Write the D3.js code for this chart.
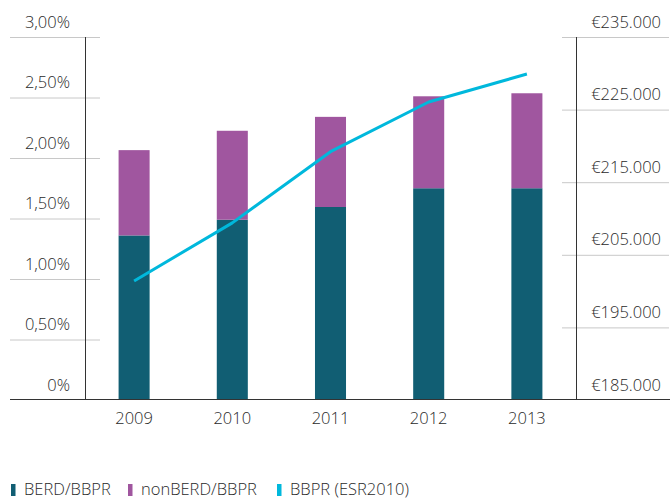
<!DOCTYPE html>
<html><head><meta charset="utf-8">
<script src="https://cdn.jsdelivr.net/npm/d3@7/dist/d3.min.js"></script>
<style>
body{margin:0;background:#fff;}
text{font-family:"Open Sans",sans-serif;font-weight:300;fill:#2a2a2a;}
</style></head>
<body><svg id="c" width="670" height="500"></svg>
<script>
const years = ["2009","2010","2011","2012","2013"];
const berd = [1.36, 1.49, 1.595, 1.75, 1.75];
const nonBerd = [0.705, 0.735, 0.745, 0.76, 0.785];
const bbpr = [201400, 209400, 219200, 226050, 229900];
const leftTicks = [0, 0.5, 1, 1.5, 2, 2.5, 3];
const rightTicks = [185000, 195000, 205000, 215000, 225000, 235000];
const legendLabels = ["BERD/BBPR", "nonBERD/BBPR", "BBPR (ESR2010)"];
const colors = ["#115e73", "#a0569f", "#00b8dc"];

const svg = d3.select("#c");
const x = d3.scaleBand().domain(years).range([85, 576]).paddingInner(0.684).paddingOuter(0.342);
const yL = d3.scaleLinear().domain([0, 3]).range([400, 37]);
const yR = d3.scaleLinear().domain([185000, 235000]).range([400, 37]);

const fmtL = v => v === 0 ? "0%" : d3.format(".2f")(v).replace(".", ",") + "%";
const fmtR = v => "€" + d3.format(",")(v).replace(/,/g, ".");

// left gridlines
const gL = svg.append("g").attr("transform", "translate(100,0)")
  .call(d3.axisLeft(yL).tickValues(leftTicks.filter(t => t > 0)).tickSize(90).tickFormat(""));
gL.select(".domain").remove();
gL.selectAll("line").attr("stroke", "#c8c8c8").attr("stroke-width", 1);
// right gridlines
const gR = svg.append("g").attr("transform", "translate(562,0)")
  .call(d3.axisRight(yR).tickValues(rightTicks.filter(t => t > 185000)).tickSize(107).tickFormat(""));
gR.select(".domain").remove();
gR.selectAll("line").attr("stroke", "#c8c8c8").attr("stroke-width", 1);

// left labels
const lL = svg.append("g").attr("transform", "translate(70,0)")
  .call(d3.axisLeft(yL).tickValues(leftTicks).tickSize(0).tickPadding(0).tickFormat(fmtL));
lL.select(".domain").remove();
lL.selectAll("text").attr("font-size", 16.5).attr("dy", "-0.6em").attr("fill", "#2a2a2a")
  .style("font-family", "'Open Sans',sans-serif").style("font-weight", 300);
// right labels
const lR = svg.append("g").attr("transform", "translate(661,0)")
  .call(d3.axisLeft(yR).tickValues(rightTicks).tickSize(0).tickPadding(0).tickFormat(fmtR));
lR.select(".domain").remove();
lR.selectAll("text").attr("font-size", 16.5).attr("dy", "-0.6em").attr("fill", "#2a2a2a")
  .style("font-family", "'Open Sans',sans-serif").style("font-weight", 300);

// bars
const stack = years.map((y, i) => ({y, a: berd[i], b: nonBerd[i]}));
svg.append("g").selectAll("rect.berd").data(stack).join("rect")
  .attr("x", d => x(d.y)).attr("width", x.bandwidth())
  .attr("y", d => yL(d.a)).attr("height", d => yL(0) - yL(d.a)).attr("fill", colors[0]);
svg.append("g").selectAll("rect.non").data(stack).join("rect")
  .attr("x", d => x(d.y)).attr("width", x.bandwidth())
  .attr("y", d => yL(d.a + d.b)).attr("height", d => yL(d.a) - yL(d.a + d.b)).attr("fill", colors[1]);

// vertical axis lines
svg.append("line").attr("x1", 85.5).attr("x2", 85.5).attr("y1", yL(3)).attr("y2", yL(0)).attr("stroke", "#333");
svg.append("line").attr("x1", 576.5).attr("x2", 576.5).attr("y1", yR(235000)).attr("y2", yR(185000)).attr("stroke", "#333");
// baseline
svg.append("line").attr("x1", 10).attr("x2", 670).attr("y1", yL(0) - 0.5).attr("y2", yL(0) - 0.5).attr("stroke", "#333");

// line
const line = d3.line().x((d, i) => x(years[i]) + x.bandwidth() / 2).y(d => yR(d));
svg.append("path").datum(bbpr).attr("d", line).attr("fill", "none")
  .attr("stroke", colors[2]).attr("stroke-width", 3).attr("stroke-linejoin", "round");

// x axis labels
const ax = svg.append("g").attr("transform", `translate(0,${yL(0)})`)
  .call(d3.axisBottom(x).tickSize(0).tickPadding(12));
ax.select(".domain").remove();
ax.selectAll("text").attr("font-size", 16.5).attr("fill", "#2a2a2a")
  .style("font-family", "'Open Sans',sans-serif").style("font-weight", 300);

// legend
const legX = [11, 128, 277];
const lg = svg.append("g");
legendLabels.forEach((t, i) => {
  lg.append("rect").attr("x", legX[i]).attr("y", 484).attr("width", 4.5).attr("height", 12).attr("fill", colors[i]);
  lg.append("text").attr("x", legX[i] + 13).attr("y", 495).attr("font-size", 16.5).text(t);
});
</script></body></html>
